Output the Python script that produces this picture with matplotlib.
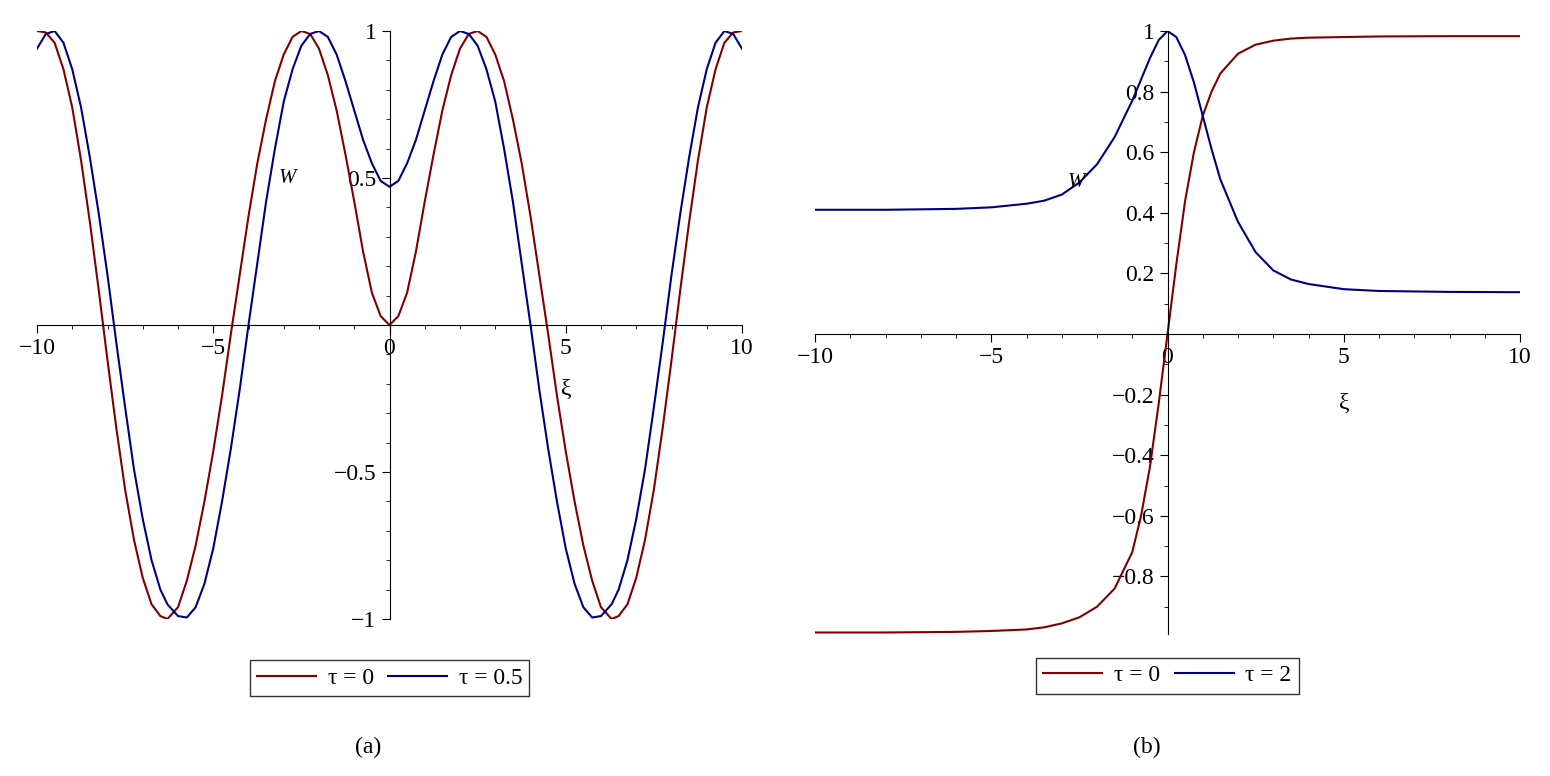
import matplotlib
matplotlib.use("Agg")
import matplotlib.pyplot as plt
import numpy as np

plt.rcParams['font.family'] = ['Liberation Serif', 'DejaVu Serif']

# (a) values read for xi >= 0; curves are symmetric in xi
xa_pos = [0, 0.25, 0.5, 0.75, 1, 1.25, 1.5, 1.75, 2, 2.25, 2.5, 2.75, 3, 3.25, 3.5, 3.75, 4, 4.25, 4.5, 4.75, 5, 5.25, 5.5, 5.75, 6, 6.3, 6.5, 6.75, 7, 7.25, 7.5, 7.75, 8, 8.25, 8.5, 8.75, 9, 9.25, 9.5, 9.75, 10]
wa_tau0 = [0, 0.03, 0.11, 0.25, 0.42, 0.58, 0.73, 0.85, 0.94, 0.99, 1.0, 0.98, 0.92, 0.83, 0.7, 0.55, 0.37, 0.17, -0.03, -0.24, -0.43, -0.6, -0.75, -0.87, -0.96, -1.0, -0.99, -0.95, -0.86, -0.73, -0.56, -0.35, -0.12, 0.12, 0.35, 0.56, 0.74, 0.87, 0.96, 0.995, 1.0]
wa_tau05 = [0.47, 0.49, 0.55, 0.63, 0.73, 0.83, 0.92, 0.98, 1.0, 0.99, 0.95, 0.87, 0.76, 0.6, 0.42, 0.21, 0.0, -0.22, -0.42, -0.6, -0.76, -0.88, -0.96, -0.995, -0.99, -0.95, -0.9, -0.8, -0.66, -0.49, -0.28, -0.06, 0.17, 0.38, 0.57, 0.74, 0.87, 0.96, 1.0, 0.99, 0.94]

# (b)
xb = [-10, -8, -6, -5, -4, -3.5, -3, -2.5, -2, -1.5, -1, -0.75, -0.5, -0.25, 0, 0.25, 0.5, 0.75, 1, 1.25, 1.5, 2, 2.5, 3, 3.5, 4, 5, 6, 8, 10]
wb_tau0 = [-0.985, -0.985, -0.983, -0.98, -0.975, -0.968, -0.955, -0.935, -0.9, -0.84, -0.72, -0.6, -0.44, -0.23, 0.0, 0.23, 0.44, 0.6, 0.72, 0.8, 0.86, 0.925, 0.955, 0.968, 0.975, 0.978, 0.98, 0.982, 0.983, 0.983]
wb_tau2 = [0.41, 0.41, 0.413, 0.418, 0.43, 0.44, 0.46, 0.5, 0.56, 0.65, 0.77, 0.84, 0.91, 0.97, 1.0, 0.98, 0.92, 0.83, 0.72, 0.61, 0.51, 0.37, 0.27, 0.21, 0.18, 0.165, 0.148, 0.142, 0.139, 0.138]

RED = '#7f0000'
BLUE = '#00007f'

xa = [-v for v in xa_pos[::-1]] + xa_pos[1:]
ya0 = wa_tau0[::-1] + wa_tau0[1:]
ya5 = wa_tau05[::-1] + wa_tau05[1:]

fig = plt.figure(figsize=(15.5, 7.76), dpi=100)

def style(ax):
    for s in ['top', 'right']:
        ax.spines[s].set_visible(False)
    ax.spines['left'].set_position(('data', 0))
    ax.spines['bottom'].set_position(('data', 0))
    ax.tick_params(labelsize=17, direction='out', length=6)
    ax.tick_params(which='minor', length=3)
    ax.set_xticks([-10, -5, 0, 5, 10])
    ax.set_xticklabels(['\u221210', '\u22125', '0', '5', '10'])
    ax.set_xticks(np.arange(-10, 10.01, 1), minor=True)
    ax.set_xlim(-10, 10)

leg_kw = dict(ncol=2, fontsize=17, frameon=True, fancybox=False, edgecolor='black',
              handlelength=2.5, handletextpad=0.5, columnspacing=0.6, borderpad=0.3)

ax1 = fig.add_axes([37/1550, 1-619/776, 705/1550, 588/776])
ax1.plot(xa, ya0, color=RED, lw=1.5, label='\u03c4 = 0')
ax1.plot(xa, ya5, color=BLUE, lw=1.5, label='\u03c4 = 0.5')
style(ax1)
ax1.set_ylim(-1, 1)
ax1.set_yticks([-1, -0.5, 0.5, 1])
ax1.set_yticklabels(['\u22121', '\u22120.5', '0.5', '1'])
ax1.set_yticks(np.arange(-1, 1.01, 0.1), minor=True)
ax1.text(-2.9, 0.5, 'W', fontsize=15, style='italic', ha='center', va='center')
ax1.text(5.0, -0.22, '\u03be', fontsize=17, ha='center', va='center')
ax1.legend(loc='upper center', bbox_to_anchor=(0.5, -0.05), **leg_kw)
fig.text(368/1550, 1-747/776, '(a)', fontsize=17, ha='center', va='center')

ax2 = fig.add_axes([815/1550, 1-634/776, 705/1550, 603/776])
ax2.plot(xb, wb_tau0, color=RED, lw=1.5, label='\u03c4 = 0')
ax2.plot(xb, wb_tau2, color=BLUE, lw=1.5, label='\u03c4 = 2')
style(ax2)
ax2.set_ylim(-0.99, 1)
yt = [-0.8, -0.6, -0.4, -0.2, 0.2, 0.4, 0.6, 0.8, 1]
ax2.set_yticks(yt)
ax2.set_yticklabels([('\u2212' + f'{-v:g}') if v < 0 else f'{v:g}' for v in yt])
ax2.set_yticks(np.arange(-0.9, 1.01, 0.1), minor=True)
ax2.text(-2.6, 0.5, 'W', fontsize=15, style='italic', ha='center', va='center')
ax2.text(5.0, -0.23, '\u03be', fontsize=17, ha='center', va='center')
ax2.legend(loc='upper center', bbox_to_anchor=(0.5, -0.02), **leg_kw)
fig.text(1147/1550, 1-747/776, '(b)', fontsize=17, ha='center', va='center')

fig.savefig('out.png', dpi=100)
